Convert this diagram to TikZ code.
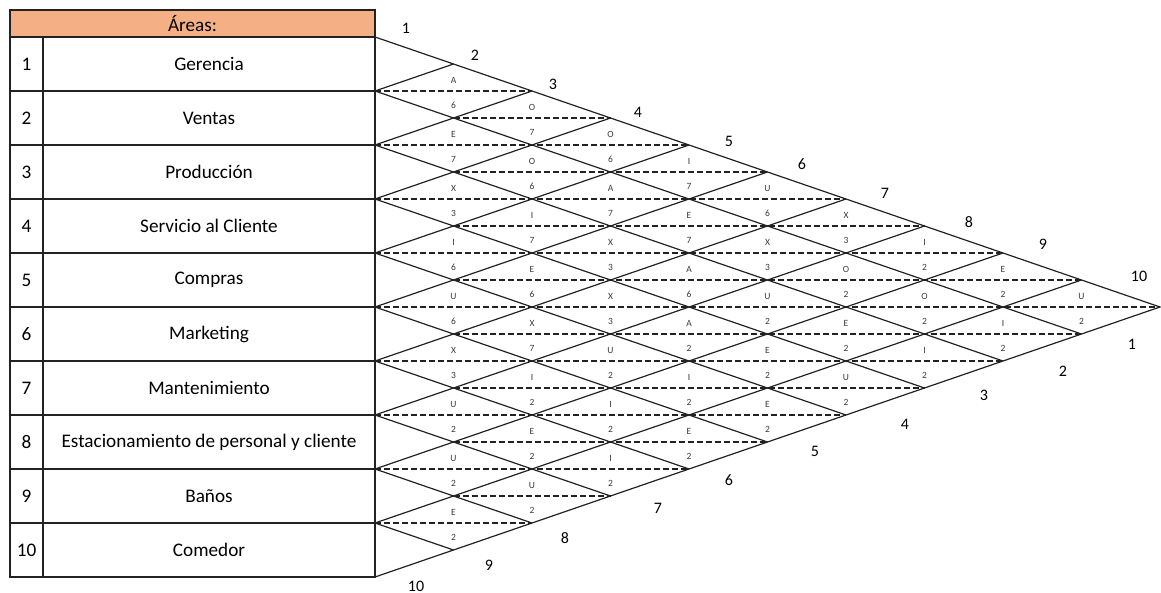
\documentclass[tikz,border=0pt]{standalone}
\usepackage{fontspec}
\setmainfont{Carlito}
\definecolor{hdrfill}{HTML}{F4B084}
\definecolor{linec}{HTML}{222222}
\definecolor{lblc}{HTML}{3A3A3A}
\begin{document}
\begin{tikzpicture}[x=1pt,y=-1pt,
  tbl/.style={draw=linec,line width=1.3pt},
  gridline/.style={draw=linec,line width=1.2pt},
  dashline/.style={draw=linec,line width=1.1pt,dash pattern=on 6pt off 3pt},
  tbltext/.style={font=\fontsize{19.2}{21}\selectfont,inner sep=0pt},
  edgelbl/.style={font=\fontsize{16}{18}\selectfont,inner sep=0pt},
  dlbl/.style={font=\fontsize{9.5}{10}\selectfont,text=lblc,inner sep=0pt}]
\useasboundingbox (0,0) rectangle (1161,593);
% table
\fill[hdrfill] (10,10) rectangle (375,37);
\draw[tbl] (10,10) rectangle (375,577);
\draw[tbl] (43,37) -- (43,577);
\foreach \k in {0,...,9}{\draw[tbl] (10,37+54*\k) -- (375,37+54*\k);}
\node[tbltext] (hdr) at (192.5,23.5) {Áreas:};
\foreach \i/\name in {1/Gerencia,2/Ventas,3/Producción,4/Servicio al Cliente,5/Compras,6/Marketing,7/Mantenimiento,8/Estacionamiento de personal y cliente,9/Baños,10/Comedor}{
  \node[tbltext] (num\i) at (26.5,64+54*\i-54) {\i};
  \node[tbltext] (area\i) at (209,64+54*\i-54) {\name};
}
% triangle
\coordinate (apex) at (1160,307);
\draw[gridline] (375,37) -- (apex) -- (375,577);
\foreach \k in {1,...,9}{
  \draw[gridline] (375,37+54*\k) -- ({375+78.5*(10-\k)},{37+27*(10+\k)});
  \draw[gridline] (375,37+54*\k) -- ({375+78.5*\k},{37+27*\k});
}
\foreach \n in {2,...,18}{
  \pgfmathsetmacro\mo{mod(\n,2)}
  \pgfmathsetmacro\mr{min(\n,20-\n)}
  \draw[dashline] ({375+78.5*\mo},{37+27*\n}) -- ({375+78.5*\mr},{37+27*\n});
}
% diamond labels
\foreach \i/\j/\L/\N in {1/2/A/6,2/3/E/7,3/4/X/3,4/5/I/6,5/6/U/6,6/7/X/3,7/8/U/2,8/9/U/2,9/10/E/2,
  1/3/O/7,2/4/O/6,3/5/I/7,4/6/E/6,5/7/X/7,6/8/I/2,7/9/E/2,8/10/U/2,
  1/4/O/6,2/5/A/7,3/6/X/3,4/7/X/3,5/8/U/2,6/9/I/2,7/10/I/2,
  1/5/I/7,2/6/E/7,3/7/A/6,4/8/A/2,5/9/I/2,6/10/E/2,
  1/6/U/6,2/7/X/3,3/8/U/2,4/9/E/2,5/10/E/2,
  1/7/X/3,2/8/O/2,3/9/E/2,4/10/U/2,
  1/8/I/2,2/9/O/2,3/10/I/2,
  1/9/E/2,2/10/I/2,
  1/10/U/2}{
  \pgfmathsetmacro\cx{375+78.5*(\j-\i)}
  \pgfmathsetmacro\cy{37+27*(\i+\j-1)}
  \node[dlbl] (L\i-\j) at (\cx,\cy-11) {\L};
  \node[dlbl] (N\i-\j) at (\cx,\cy+14) {\N};
}
% edge numbers
\foreach \k/\x/\y in {1/406/28,2/475/55,3/553/84,4/638/112,5/729/141,6/802/164,7/885/193,8/969/222,9/1043/244,10/1139/276}{
  \node[edgelbl] (t\k) at (\x,\y) {\k};
}
\foreach \k/\x/\y in {1/1132/344,2/1063/371,3/984/395,4/905/424,5/815/451,6/729/480,7/658/508,8/565/538,9/489/565,10/416/586}{
  \node[edgelbl] (b\k) at (\x,\y) {\k};
}
\end{tikzpicture}
\end{document}
